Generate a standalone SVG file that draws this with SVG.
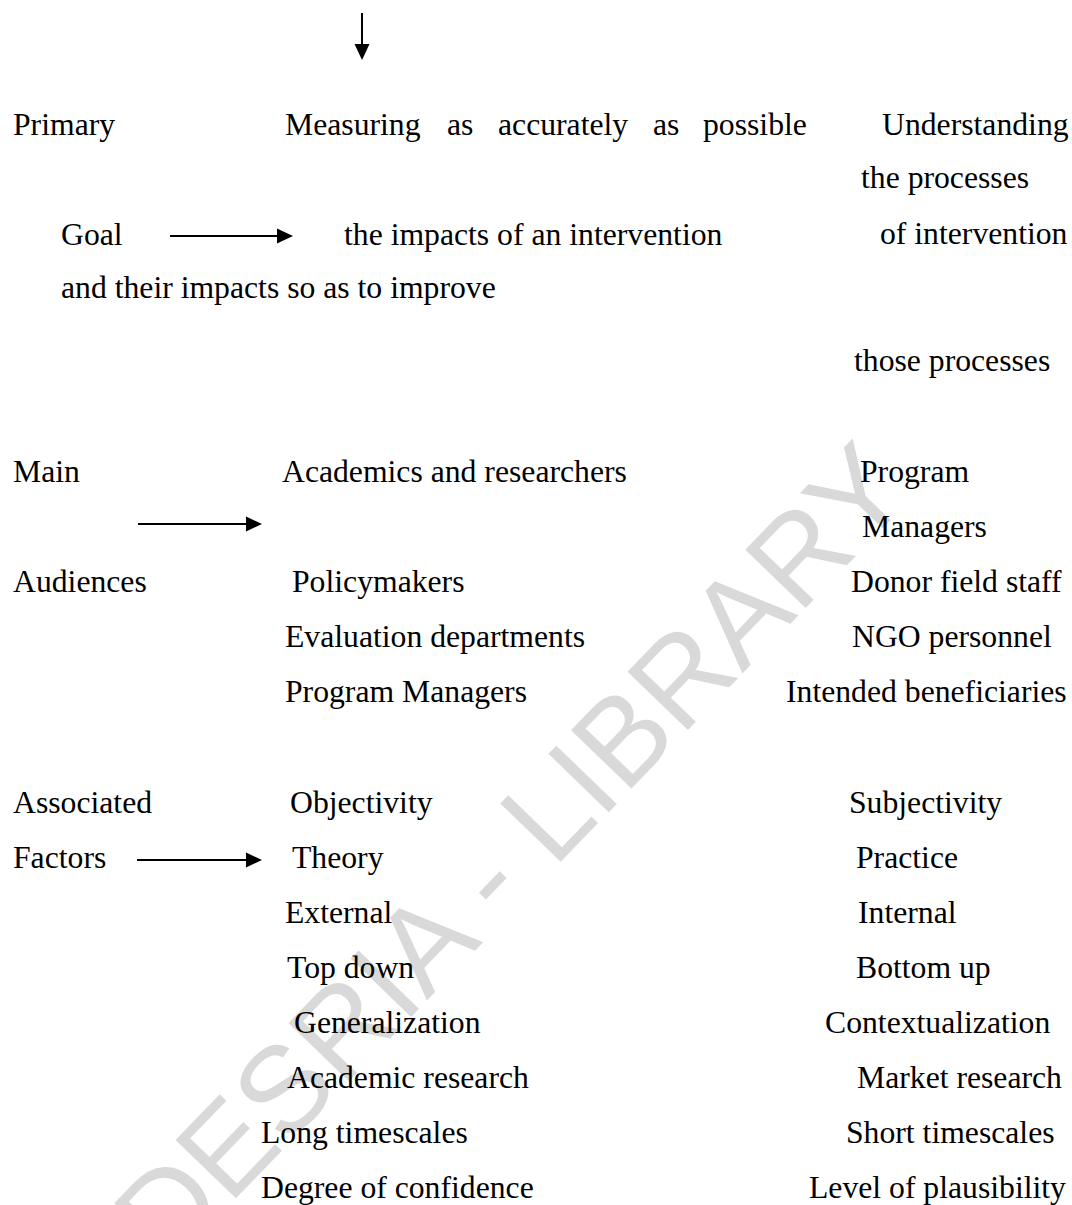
<svg xmlns="http://www.w3.org/2000/svg" width="1072" height="1205" viewBox="0 0 1072 1205">
  <style>
    .t { font-family: "Liberation Serif", "Times New Roman", serif; font-size: 31.7px; fill: #000; }
    .wm { font-family: "Liberation Sans", Arial, sans-serif; font-size: 122px; fill: #d9d9d9; }
    .conn { stroke: #000; stroke-width: 2; fill: none; }
  </style>
  <defs>
    <marker id="ah" markerUnits="userSpaceOnUse" markerWidth="16" markerHeight="16" viewBox="0 0 16 16" refX="6" refY="8" orient="auto">
      <path d="M0,0.5 L16,8 L0,15.5 Z" fill="#000"/>
    </marker>
  </defs>
  <rect x="0" y="0" width="1072" height="1205" fill="#fff"/>

  <g id="watermark">
    <text class="wm" x="915" y="495" text-anchor="end" transform="rotate(-46 915 495)">CODESRIA - LIBRARY</text>
  </g>

  <g id="connectors">
    <line class="conn" x1="362" y1="13" x2="362" y2="50" marker-end="url(#ah)"/>
    <line class="conn" x1="170" y1="236" x2="283" y2="236" marker-end="url(#ah)"/>
    <line class="conn" x1="138" y1="524" x2="252" y2="524" marker-end="url(#ah)"/>
    <line class="conn" x1="137" y1="860" x2="252" y2="860" marker-end="url(#ah)"/>
  </g>

  <g id="primary-goal">
    <text class="t" x="13" y="135">Primary</text>
    <text class="t" x="61" y="245">Goal</text>
  </g>
  <g id="goal-measuring">
    <text class="t" y="135"><tspan x="285">Measuring</tspan><tspan x="447">as</tspan><tspan x="498">accurately</tspan><tspan x="653">as</tspan><tspan x="703">possible</tspan></text>
    <text class="t" x="344" y="245">the impacts of an intervention</text>
  </g>
  <g id="goal-understanding">
    <text class="t" x="882" y="135">Understanding</text>
    <text class="t" x="861" y="188">the processes</text>
    <text class="t" x="880" y="244">of intervention</text>
    <text class="t" x="61" y="298">and their impacts so as to improve</text>
    <text class="t" x="854" y="371">those processes</text>
  </g>

  <g id="main-audiences">
    <text class="t" x="13" y="482">Main</text>
    <text class="t" x="13" y="592">Audiences</text>
  </g>
  <g id="audiences-left">
    <text class="t" x="282" y="482">Academics and researchers</text>
    <text class="t" x="292" y="592">Policymakers</text>
    <text class="t" x="285" y="647">Evaluation departments</text>
    <text class="t" x="285" y="702">Program Managers</text>
  </g>
  <g id="audiences-right">
    <text class="t" x="860" y="482">Program</text>
    <text class="t" x="862" y="537">Managers</text>
    <text class="t" x="851" y="592">Donor field staff</text>
    <text class="t" x="852" y="647">NGO personnel</text>
    <text class="t" x="786" y="702">Intended beneficiaries</text>
  </g>

  <g id="associated-factors">
    <text class="t" x="13" y="813">Associated</text>
    <text class="t" x="13" y="868">Factors</text>
  </g>
  <g id="factors-left">
    <text class="t" x="290" y="813">Objectivity</text>
    <text class="t" x="292" y="868">Theory</text>
    <text class="t" x="285" y="923">External</text>
    <text class="t" x="287" y="978">Top down</text>
    <text class="t" x="294" y="1033">Generalization</text>
    <text class="t" x="287" y="1088">Academic research</text>
    <text class="t" x="261" y="1143">Long timescales</text>
    <text class="t" x="261" y="1198">Degree of confidence</text>
  </g>
  <g id="factors-right">
    <text class="t" x="849" y="813">Subjectivity</text>
    <text class="t" x="856" y="868">Practice</text>
    <text class="t" x="858" y="923">Internal</text>
    <text class="t" x="856" y="978">Bottom up</text>
    <text class="t" x="825" y="1033">Contextualization</text>
    <text class="t" x="857" y="1088">Market research</text>
    <text class="t" x="846" y="1143">Short timescales</text>
    <text class="t" x="809" y="1198">Level of plausibility</text>
  </g>
</svg>
